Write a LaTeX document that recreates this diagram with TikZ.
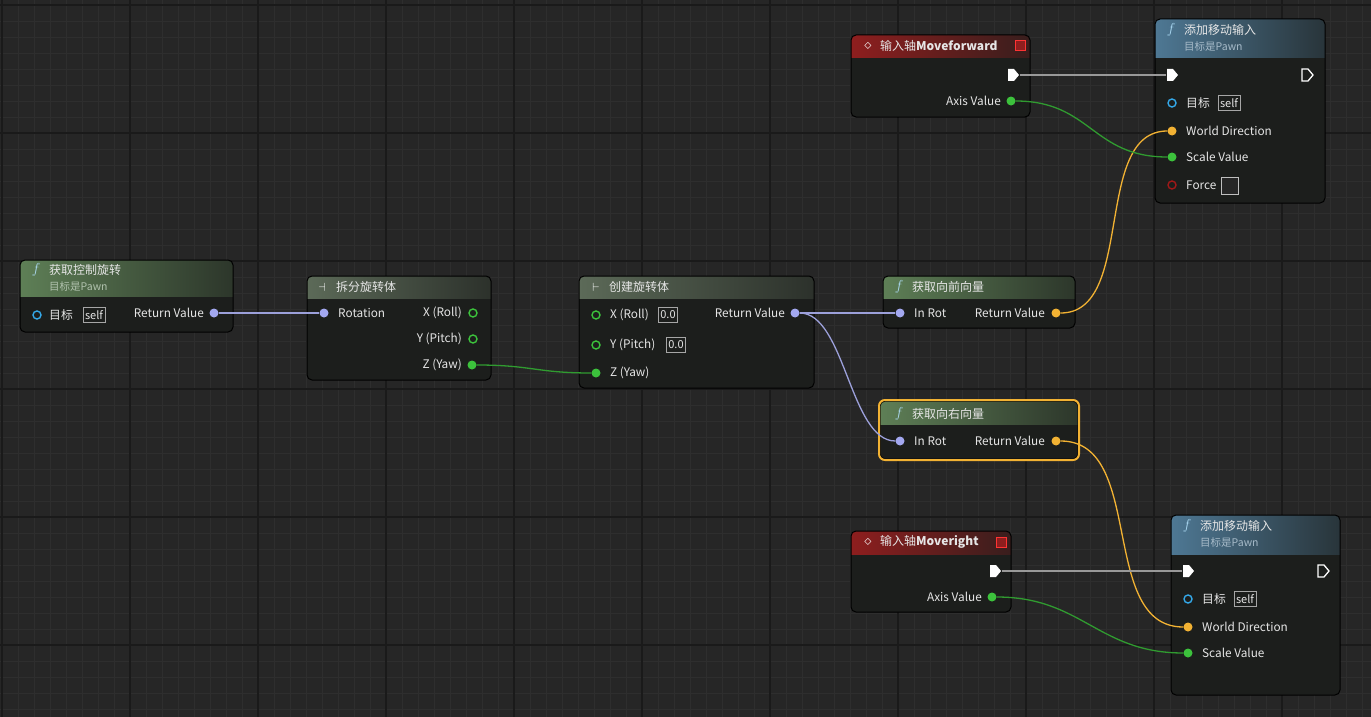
\documentclass[tikz,border=0pt]{standalone}
\usepackage{fontspec}
\setmainfont{Noto Sans CJK SC}
\usetikzlibrary{calc}
\definecolor{bg}{HTML}{262626}
\definecolor{gridc}{HTML}{2E2E2E}
\definecolor{gridm}{HTML}{1A1A1A}
\definecolor{bodyc}{HTML}{1C1E1C}
\definecolor{hgreen}{HTML}{5E7F56}
\definecolor{hgray}{HTML}{5C6A58}
\definecolor{hblue}{HTML}{4E7894}
\definecolor{hred}{HTML}{8E1E1E}
\definecolor{lav}{HTML}{A3A8F0}
\definecolor{grn}{HTML}{3CC23C}
\definecolor{org}{HTML}{F2B233}
\definecolor{blu}{HTML}{34A8E8}
\definecolor{frc}{HTML}{A01818}
\definecolor{txc}{HTML}{E6E6E6}
\definecolor{subc}{HTML}{9DB39A}
\tikzset{
 txt/.style={text=txc, font=\fontsize{11.8}{13}\selectfont, inner sep=0},
 ttl/.style={text=txc, font=\fontsize{12}{13}\selectfont, inner sep=0, anchor=west},
 sub/.style={text=subc!80!white, font=\fontsize{10.5}{12}\selectfont\itshape, inner sep=0, anchor=west},
 pinf/.style={circle, fill=#1, minimum size=9pt, inner sep=0},
 pinh/.style={circle, draw=#1, line width=1.4pt, minimum size=8pt, inner sep=0},
 wire/.style={line width=1.3pt},
 selfbox/.style={draw=gray!70, text=txc, font=\fontsize{11}{12}\selectfont, inner sep=2pt, minimum height=15pt},
}
\newcommand\bpnode[6]{%
 \begin{scope}
 \clip[rounded corners=5pt] (#1,#2) rectangle (#3,#4);
 \fill[bodyc] (#1,#2) rectangle (#3,#4);
 \shade[left color=#6, right color=#6!25!bodyc] (#1,#2) rectangle (#3,#5);
 \end{scope}
 \draw[black,line width=1pt,rounded corners=5pt] (#1,#2) rectangle (#3,#4);}
\newcommand\execpin[2]{\fill[white] ($(#1)+(-5,-6)$) -- ($(#1)+(1,-6)$) -- ($(#1)+(6,0)$) -- ($(#1)+(1,6)$) -- ($(#1)+(-5,6)$) -- cycle;}
\newcommand\execout[1]{\draw[white,line width=1.3pt] ($(#1)+(-5,-6)$) -- ($(#1)+(1,-6)$) -- ($(#1)+(6,0)$) -- ($(#1)+(1,6)$) -- ($(#1)+(-5,6)$) -- cycle;}
\newcommand\fic[1]{\node[text=blu!40!white, font=\fontsize{15}{15}\selectfont, inner sep=0] at (#1) {$f$};}
\begin{document}
\begin{tikzpicture}[x=1pt,y=-1pt]
\fill[bg] (0,0) rectangle (1371,717);
\useasboundingbox (0,0) rectangle (1371,717);
\foreach \i in {0,16,...,1371} \draw[gridc] (\i+2,0) -- (\i+2,717);
\foreach \j in {0,16,...,717} \draw[gridc] (0,\j+5) -- (1371,\j+5);
\foreach \i in {2,130,...,1371} \draw[gridm,line width=1.2pt] (\i,0) -- (\i,717);
\foreach \i in {5,133,...,717} \draw[gridm,line width=1.2pt] (0,\i) -- (1371,\i);

% node 1
\bpnode{20}{260}{233}{332}{296}{hgreen}
\fic{36,270}
\node[ttl] at (49,270) {获取控制旋转};
\node[sub] at (49,287) {目标是Pawn};
\node[pinh=blu] (n1t) at (37,315) {};
\node[txt,anchor=west] at (49,315) {目标};
\node[selfbox] at (94,315) {self};
\node[pinf=lav] (n1r) at (214,313) {};
\node[txt,anchor=east] at (204,313) {Return Value};

% node 2
\bpnode{307}{276}{491}{380}{298}{hgray}
\node[text=white,font=\fontsize{12}{12}\selectfont,inner sep=0] at (322,287) {$\dashv$};
\node[ttl] at (336,287) {拆分旋转体};
\node[pinf=lav] (n2in) at (324,313) {};
\node[txt,anchor=west] at (338,313) {Rotation};
\node[pinh=grn] (n2x) at (473,313) {};
\node[txt,anchor=east] at (462,313) {X (Roll)};
\node[pinh=grn] (n2y) at (473,339) {};
\node[txt,anchor=east] at (462,339) {Y (Pitch)};
\node[pinf=grn] (n2z) at (472,365) {};
\node[txt,anchor=east] at (462,365) {Z (Yaw)};

% node 3
\bpnode{579}{276}{814}{388}{298}{hgray}
\node[text=white,font=\fontsize{12}{12}\selectfont,inner sep=0] at (596,287) {$\vdash$};
\node[ttl] at (609,287) {创建旋转体};
\node[pinh=grn] (n3x) at (596,315) {};
\node[txt,anchor=west] at (610,315) {X (Roll)};
\node[selfbox] at (668,315) {0.0};
\node[pinh=grn] (n3y) at (596,345) {};
\node[txt,anchor=west] at (610,345) {Y (Pitch)};
\node[selfbox] at (676,345) {0.0};
\node[pinf=grn] (n3z) at (596,373) {};
\node[txt,anchor=west] at (610,373) {Z (Yaw)};
\node[pinf=lav] (n3r) at (795,313) {};
\node[txt,anchor=east] at (785,313) {Return Value};

% node 4
\bpnode{883}{276}{1075}{328}{298}{hgreen}
\fic{899,287}
\node[ttl] at (912,287) {获取向前向量};
\node[pinf=lav] (n4in) at (900,313) {};
\node[txt,anchor=west] at (914,313) {In Rot};
\node[pinf=org] (n4r) at (1056,313) {};
\node[txt,anchor=east] at (1045,313) {Return Value};

% node 5
\bpnode{880}{401}{1078}{459}{424}{hgreen}
\draw[org,line width=2pt,rounded corners=6pt] (879,400) rectangle (1079,460);
\fic{899,414}
\node[ttl] at (912,414) {获取向右向量};
\node[pinf=lav] (n5in) at (900,441) {};
\node[txt,anchor=west] at (914,441) {In Rot};
\node[pinf=org] (n5r) at (1056,441) {};
\node[txt,anchor=east] at (1045,441) {Return Value};

% node 6
\bpnode{851}{35}{1030}{117}{58}{hred}
\node[text=white,font=\fontsize{14}{14}\selectfont,inner sep=0] at (868,46) {$\diamond$};
\node[ttl] at (880,46) {输入轴\textbf{Moveforward}};
\draw[red!80!white,fill=hred,line width=1pt] (1015,41) rectangle (1025,51);
\coordinate (n6e) at (1013,75);
\execpin{n6e}{}
\node[pinf=grn] (n6a) at (1011,101) {};
\node[txt,anchor=east] at (1001,101) {Axis Value};

% node 7
\bpnode{1155}{19}{1325}{203}{58}{hblue}
\fic{1171,30}
\node[ttl] at (1184,30) {添加移动输入};
\node[sub,text=hblue!50!white] at (1184,47) {目标是Pawn};
\coordinate (n7e) at (1172,75);
\execpin{n7e}{}
\coordinate (n7o) at (1307,75);
\execout{n7o}
\node[pinh=blu] (n7t) at (1172,103) {};
\node[txt,anchor=west] at (1186,103) {目标};
\node[selfbox] at (1229,103) {self};
\node[pinf=org] (n7w) at (1172,131) {};
\node[txt,anchor=west] at (1186,131) {World Direction};
\node[pinf=grn] (n7s) at (1172,157) {};
\node[txt,anchor=west] at (1186,157) {Scale Value};
\node[pinh=frc] (n7f) at (1172,185) {};
\node[txt,anchor=west] at (1186,185) {Force};
\draw[gray!50,fill=black!85] (1221,177) rectangle (1238,194);

% node 8
\bpnode{851}{531}{1011}{612}{554}{hred}
\node[text=white,font=\fontsize{14}{14}\selectfont,inner sep=0] at (868,542) {$\diamond$};
\node[ttl] at (880,542) {输入轴\textbf{Moveright}};
\draw[red!80!white,fill=hred,line width=1pt] (996,537) rectangle (1006,547);
\coordinate (n8e) at (995,571);
\execpin{n8e}{}
\node[pinf=grn] (n8a) at (992,597) {};
\node[txt,anchor=east] at (982,597) {Axis Value};

% node 9
\bpnode{1171}{515}{1340}{695}{554}{hblue}
\fic{1187,526}
\node[ttl] at (1200,526) {添加移动输入};
\node[sub,text=hblue!50!white] at (1200,543) {目标是Pawn};
\coordinate (n9e) at (1188,571);
\execpin{n9e}{}
\coordinate (n9o) at (1323,571);
\execout{n9o}
\node[pinh=blu] (n9t) at (1188,599) {};
\node[txt,anchor=west] at (1202,599) {目标};
\node[selfbox] at (1245,599) {self};
\node[pinf=org] (n9w) at (1188,627) {};
\node[txt,anchor=west] at (1202,627) {World Direction};
\node[pinf=grn] (n9s) at (1188,653) {};
\node[txt,anchor=west] at (1202,653) {Scale Value};

% wires
\draw[wire,lav!80!gray] (n1r) -- (n2in);
\draw[wire,grn!80!black] (n2z) .. controls +(60,0) and +(-60,0) .. (n3z);
\draw[wire,lav!80!gray] (n3r) -- (n4in);
\draw[wire,lav!80!gray] (n3r) .. controls +(50,0) and +(-50,0) .. (n5in);
\draw[wire,org] (n4r) .. controls +(80,0) and +(-80,0) .. (n7w);
\draw[wire,org] (n5r) .. controls +(90,0) and +(-90,0) .. (n9w);
\draw[wire,grn!80!black] (n6a) .. controls +(80,0) and +(-80,0) .. (n7s);
\draw[wire,grn!80!black] (n8a) .. controls +(90,0) and +(-90,0) .. (n9s);
\draw[wire,gray!80!white] ($(n6e)+(7,0)$) -- ($(n7e)+(-6,0)$);
\draw[wire,gray!80!white] ($(n8e)+(7,0)$) -- ($(n9e)+(-6,0)$);
\end{tikzpicture}
\end{document}
